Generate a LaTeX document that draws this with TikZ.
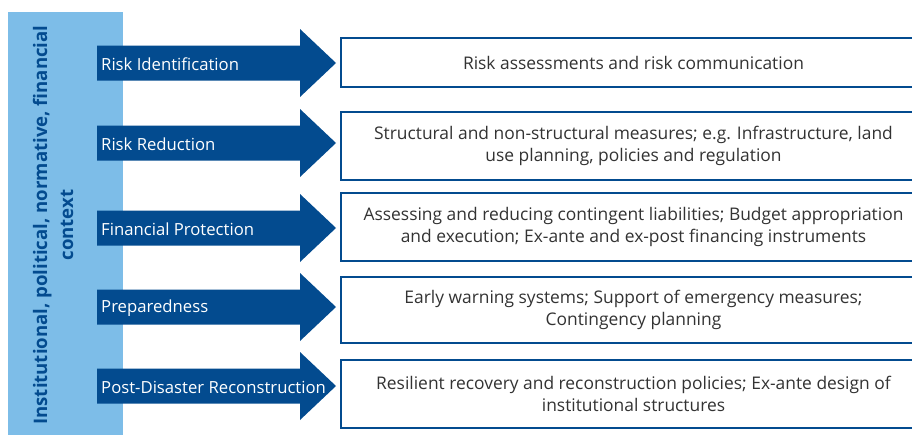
\documentclass[tikz,border=0pt]{standalone}
\usepackage{fontspec}
\setmainfont{Open Sans}
\definecolor{dblue}{HTML}{034B8F}
\definecolor{lblue}{HTML}{7DBDE8}
\definecolor{txtgray}{HTML}{333333}
\tikzset{
  arrowtext/.style={anchor=west, text=white, inner sep=0pt, font=\fontsize{16.7}{20}\selectfont},
  descbox/.style={draw=dblue, line width=2pt, fill=white, anchor=west, minimum width=585pt,
     text=txtgray, align=center, inner sep=0pt, font=\fontsize{17.4}{22}\selectfont},
  ctxbar/.style={fill=lblue, anchor=north west, minimum width=115pt, minimum height=425pt, inner sep=0pt},
}
\newcommand\blockarrow[3]{%
  \fill[dblue] (97,#1-17.5) -- (300,#1-17.5) -- (300,#1-34) -- (336,#1) -- (300,#1+34)
     -- (300,#1+17.5) -- (97,#1+17.5) -- cycle;
  \node[arrowtext] (#2) at (101,#1+1) {#3};}
\begin{document}
\begin{tikzpicture}[x=1pt,y=-1pt]
\useasboundingbox (0,0) rectangle (912,434);
\clip (0,0) rectangle (912,434);
\node[ctxbar] (bar) at (8,12) {};
\node[rotate=90, align=center, text=dblue, font=\bfseries\fontsize{18.6}{26}\selectfont] (ctx) at (53,225)
  {Institutional, political, normative, financial\\context};
\blockarrow{63}{a1}{Risk Identification}
\blockarrow{143}{a2}{Risk Reduction}
\blockarrow{228}{a3}{Financial Protection}
\blockarrow{307}{a4}{Preparedness}
\blockarrow{386}{a5}{Post-Disaster Reconstruction}
\node[descbox, minimum height=49pt] (d1) at (340,62.5) {Risk assessments and risk communication};
\node[descbox, minimum height=68pt] (d2) at (340,146) {Structural and non-structural measures; e.g. Infrastructure, land\\use planning, policies and regulation};
\node[descbox, minimum height=68pt] (d3) at (340,227) {Assessing and reducing contingent liabilities; Budget appropriation\\and execution; Ex-ante and ex-post financing instruments};
\node[descbox, minimum height=66pt] (d4) at (340,310) {Early warning systems; Support of emergency measures;\\Contingency planning};
\node[descbox, minimum height=68pt] (d5) at (340,394) {Resilient recovery and reconstruction policies; Ex-ante design of\\institutional structures};
\end{tikzpicture}
\end{document}
